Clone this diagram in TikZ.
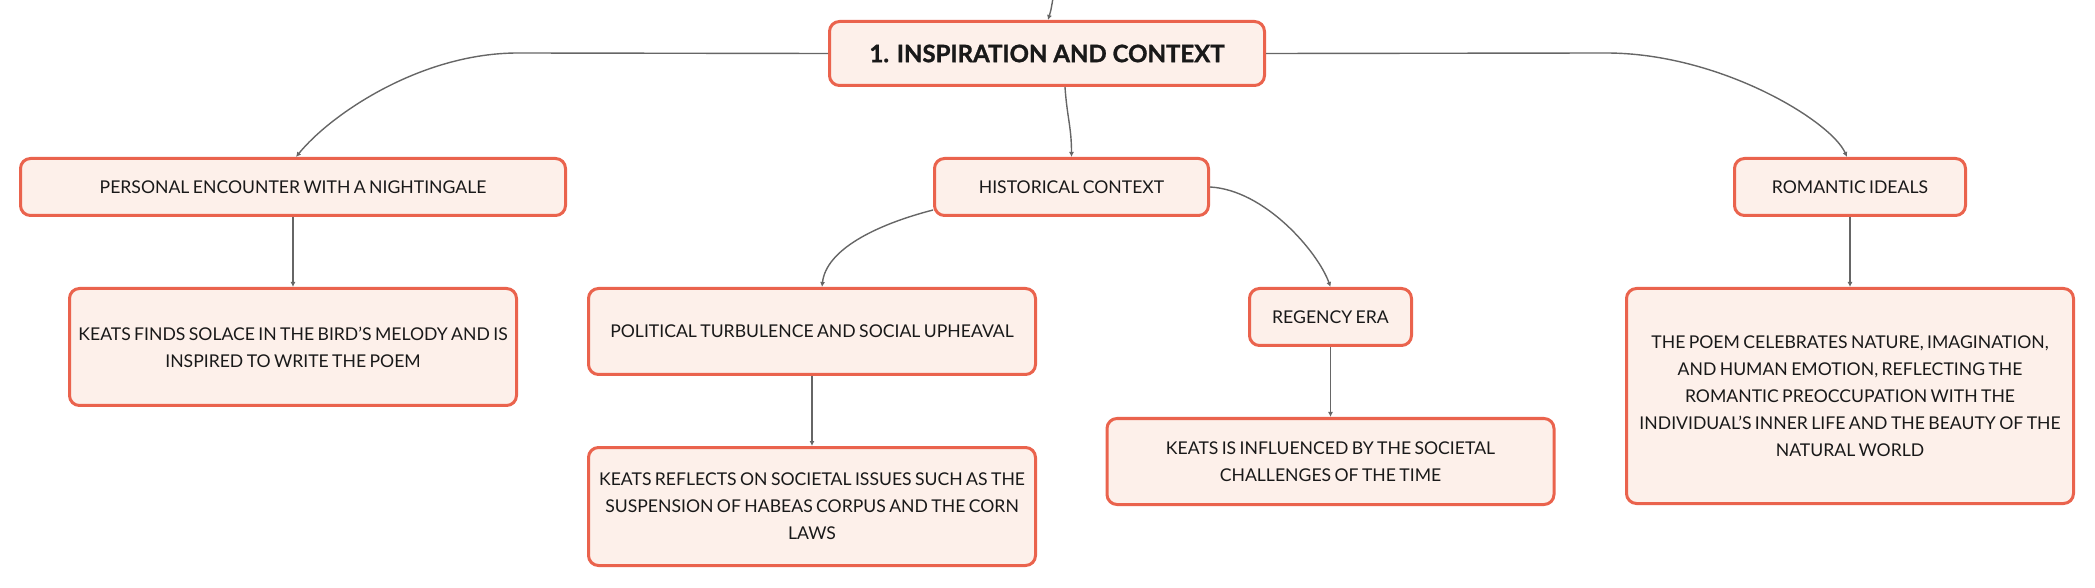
\documentclass[tikz,border=0pt]{standalone}
\usepackage{fontspec}
\setmainfont{Lato}[WordSpace=0.75]
\newfontfamily\rootfont{Lato}[BoldFeatures={FakeBold=1.2}]
\usetikzlibrary{arrows.meta}
\definecolor{boxred}{HTML}{EA634D}
\definecolor{boxfill}{HTML}{FDF0EA}
\definecolor{linkgray}{HTML}{666666}
\begin{document}
\begin{tikzpicture}[x=0.5pt,y=-0.5pt,
    box/.style={draw=boxred,line width=1.5pt,fill=boxfill,rounded corners=5pt,inner sep=0pt,
      align=center,text=black!90,font=\fontsize{8.8}{13.5}\selectfont},
    link/.style={draw=linkgray,line width=0.7pt,-{Latex[length=2.5pt,width=2.5pt]}}]
  \useasboundingbox (0,0) rectangle (2095,588);
  \node[box,minimum width=217.5pt,minimum height=32pt,font=\fontsize{12}{14}\selectfont\rootfont\bfseries] (root) at (1047,53.5) {1. INSPIRATION AND CONTEXT};
  \node[box,minimum width=272.5pt,minimum height=28.5pt] (personal) at (293,187) {PERSONAL ENCOUNTER WITH A NIGHTINGALE};
  \node[box,minimum width=137pt,minimum height=28.5pt] (historical) at (1071.5,187) {HISTORICAL CONTEXT};
  \node[box,minimum width=115.5pt,minimum height=28.5pt] (romantic) at (1850,187) {ROMANTIC IDEALS};
  \node[box,minimum width=223.5pt,minimum height=58.5pt] (keatsfinds) at (293,347) {KEATS FINDS SOLACE IN THE BIRD'S MELODY AND IS\\INSPIRED TO WRITE THE POEM};
  \node[box,minimum width=223.5pt,minimum height=43pt] (political) at (812,331.5) {POLITICAL TURBULENCE AND SOCIAL UPHEAVAL};
  \node[box,minimum width=81pt,minimum height=28.5pt] (regency) at (1330.5,317) {REGENCY ERA};
  \node[box,minimum width=223.5pt,minimum height=59pt] (reflects) at (812,506.5) {KEATS REFLECTS ON SOCIETAL ISSUES SUCH AS THE\\SUSPENSION OF HABEAS CORPUS AND THE CORN\\LAWS};
  \node[box,minimum width=223.5pt,minimum height=43pt] (influenced) at (1330.5,461.5) {KEATS IS INFLUENCED BY THE SOCIETAL\\CHALLENGES OF THE TIME};
  \node[box,minimum width=223.5pt,minimum height=107.5pt] (poem) at (1850,396) {THE POEM CELEBRATES NATURE, IMAGINATION,\\AND HUMAN EMOTION, REFLECTING THE\\ROMANTIC PREOCCUPATION WITH THE\\INDIVIDUAL'S INNER LIFE AND THE BEAUTY OF THE\\NATURAL WORLD};
  \coordinate (up) at (1053,-2);
  \draw[link] (up) .. controls (1051,10) .. ([xshift=0.5pt]root.north);
  \draw[link] (root.west) -- (518,53) .. controls (420,53) and (330,115) .. ([xshift=1.5pt]personal.north);
  \draw[link] (root.east) -- (1606,53) .. controls (1720,53) and (1831,121) .. ([xshift=-1.5pt]romantic.north);
  \draw[link] ([xshift=9pt]root.south) .. controls +(2,30) and +(0,-30) .. (historical.north);
  \draw[link] ([yshift=-11.5pt]historical.west) .. controls (875,225) and (826,250) .. ([xshift=5pt]political.north);
  \draw[link] (historical.east) .. controls (1265,190) and (1318,252) .. (regency.north);
  \foreach \a/\b in {personal/keatsfinds,political/reflects,regency/influenced,romantic/poem}
    \draw[link] (\a) -- (\b);
\end{tikzpicture}
\end{document}
